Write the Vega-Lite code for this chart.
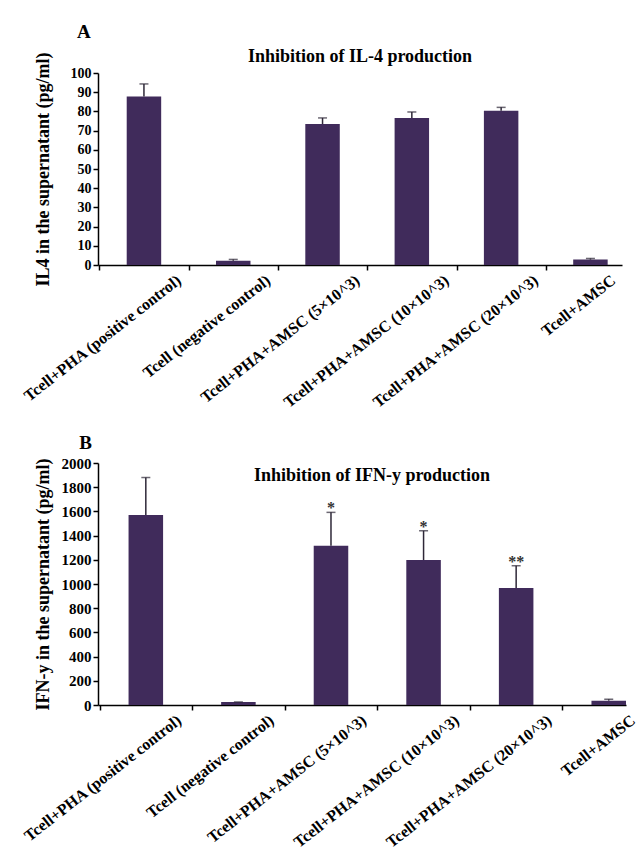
{
  "$schema": "https://vega.github.io/schema/vega-lite/v6.json",
  "padding": {"left": 20, "top": 22, "right": 0, "bottom": 5},
  "config": {
    "font": "Liberation Serif",
    "view": {"stroke": null},
    "axis": {
      "domainColor": "#000", "tickColor": "#000", "domainWidth": 1.5, "tickWidth": 1.5,
      "labelFont": "Liberation Serif", "labelFontWeight": "bold", "labelColor": "#000",
      "titleFont": "Liberation Serif", "titleFontWeight": "bold", "titleColor": "#000",
      "grid": false, "tickSize": 5, "labelOverlap": false
    },
    "title": {"font": "Liberation Serif", "fontWeight": "bold", "color": "#000"}
  },
  "datasets": {
    "il4": [
      {"group": "Tcell+PHA (positive control)", "value": 87.8, "upper": 94.3, "sig": ""},
      {"group": "Tcell (negative control)", "value": 2.2, "upper": 2.9, "sig": ""},
      {"group": "Tcell+PHA+AMSC (5×10^3)", "value": 73.4, "upper": 76.6, "sig": ""},
      {"group": "Tcell+PHA+AMSC (10×10^3)", "value": 76.6, "upper": 79.7, "sig": ""},
      {"group": "Tcell+PHA+AMSC (20×10^3)", "value": 80.4, "upper": 82.1, "sig": ""},
      {"group": "Tcell+AMSC", "value": 2.8, "upper": 3.4, "sig": ""}
    ],
    "ifn": [
      {"group": "Tcell+PHA (positive control)", "value": 1570, "upper": 1880, "sig": ""},
      {"group": "Tcell (negative control)", "value": 25, "upper": 25, "sig": ""},
      {"group": "Tcell+PHA+AMSC (5×10^3)", "value": 1317, "upper": 1592, "sig": "*"},
      {"group": "Tcell+PHA+AMSC (10×10^3)", "value": 1198, "upper": 1440, "sig": "*"},
      {"group": "Tcell+PHA+AMSC (20×10^3)", "value": 967, "upper": 1151, "sig": "**"},
      {"group": "Tcell+AMSC", "value": 36, "upper": 47, "sig": ""}
    ]
  },
  "spacing": 23,
  "vconcat": [
    {
      "title": {"text": "A", "anchor": "start", "fontSize": 19, "dx": 57, "offset": 6},
      "vconcat": [
        {
          "title": {"text": "Inhibition of IL-4 production", "fontSize": 18, "anchor": "middle", "offset": 2, "dy": 16},
          "width": 524,
          "height": 192,
          "data": {"name": "il4"},
          "encoding": {
            "x": {
              "field": "group", "type": "nominal",
              "scale": {
                "domain": ["Tcell+PHA (positive control)", "Tcell (negative control)", "Tcell+PHA+AMSC (5×10^3)", "Tcell+PHA+AMSC (10×10^3)", "Tcell+PHA+AMSC (20×10^3)", "Tcell+AMSC"],
                "paddingInner": 0.614, "paddingOuter": 0.241, "align": 0.667
              },
              "axis": {
                "title": null, "labelAngle": -38, "labelFontSize": 16, "labelAlign": "right", "labelBaseline": "middle",
                "bandPosition": 0, "tickOffset": -27.4, "labelPadding": 8, "labelLimit": 400,
                "labelOffset": {"condition": {"test": "datum.value === 'Tcell+AMSC'", "value": 50}, "value": 62}
              }
            }
          },
          "layer": [
            {
              "mark": {"type": "bar", "color": "#402b5b"},
              "encoding": {
                "y": {
                  "field": "value", "type": "quantitative",
                  "scale": {"domain": [0, 100], "nice": false},
                  "axis": {
                    "title": "IL4 in the supernatant (pg/ml)", "titleFontSize": 18,
                    "values": [0, 10, 20, 30, 40, 50, 60, 70, 80, 90, 100], "tickCount": 20, "format": "d",
                    "labelFontSize": 14, "labelPadding": 2, "titleX": -50, "titleBaseline": "alphabetic"
                  }
                }
              }
            },
            {
              "mark": {"type": "rule", "color": "#2e2838", "strokeWidth": 1.5},
              "encoding": {"y": {"field": "value", "type": "quantitative"}, "y2": {"field": "upper"}}
            },
            {
              "mark": {"type": "tick", "color": "#2e2838", "size": 9, "thickness": 1.5},
              "encoding": {"y": {"field": "upper", "type": "quantitative"}}
            }
          ]
        }
      ]
    },
    {
      "title": {"text": "B", "anchor": "start", "fontSize": 19, "dx": 59, "offset": 3},
      "vconcat": [
        {
          "title": {"text": "Inhibition of IFN-y production", "fontSize": 18, "anchor": "middle", "offset": 0, "dy": 29, "dx": 10},
          "width": 528,
          "height": 242,
          "data": {"name": "ifn"},
          "encoding": {
            "x": {
              "field": "group", "type": "nominal",
              "scale": {
                "domain": ["Tcell+PHA (positive control)", "Tcell (negative control)", "Tcell+PHA+AMSC (5×10^3)", "Tcell+PHA+AMSC (10×10^3)", "Tcell+PHA+AMSC (20×10^3)", "Tcell+AMSC"],
                "paddingInner": 0.627, "paddingOuter": 0.165, "align": 1
              },
              "axis": {
                "title": null, "labelAngle": -38, "labelFontSize": 16, "labelAlign": "right", "labelBaseline": "middle",
                "bandPosition": 0, "tickOffset": -29, "labelPadding": 8, "labelLimit": 400,
                "labelOffset": {"condition": {"test": "datum.value === 'Tcell+AMSC'", "value": 53}, "value": 62}
              }
            }
          },
          "layer": [
            {
              "mark": {"type": "bar", "color": "#402b5b"},
              "encoding": {
                "y": {
                  "field": "value", "type": "quantitative",
                  "scale": {"domain": [0, 2000], "nice": false},
                  "axis": {
                    "title": "IFN-y in the supernatant (pg/ml)", "titleFontSize": 18,
                    "values": [0, 200, 400, 600, 800, 1000, 1200, 1400, 1600, 1800, 2000], "tickCount": 20, "format": "d",
                    "labelFontSize": 15, "labelPadding": 2, "titleX": -50, "titleBaseline": "alphabetic"
                  }
                }
              }
            },
            {
              "mark": {"type": "rule", "color": "#2e2838", "strokeWidth": 1.5},
              "encoding": {"y": {"field": "value", "type": "quantitative"}, "y2": {"field": "upper"}}
            },
            {
              "mark": {"type": "tick", "color": "#2e2838", "size": 9, "thickness": 1.5},
              "encoding": {"y": {"field": "upper", "type": "quantitative"}}
            },
            {
              "mark": {"type": "text", "fontSize": 16, "fontWeight": "bold", "color": "#333", "baseline": "alphabetic", "dy": 1},
              "encoding": {"y": {"field": "upper", "type": "quantitative"}, "text": {"field": "sig"}}
            }
          ]
        }
      ]
    }
  ]
}
